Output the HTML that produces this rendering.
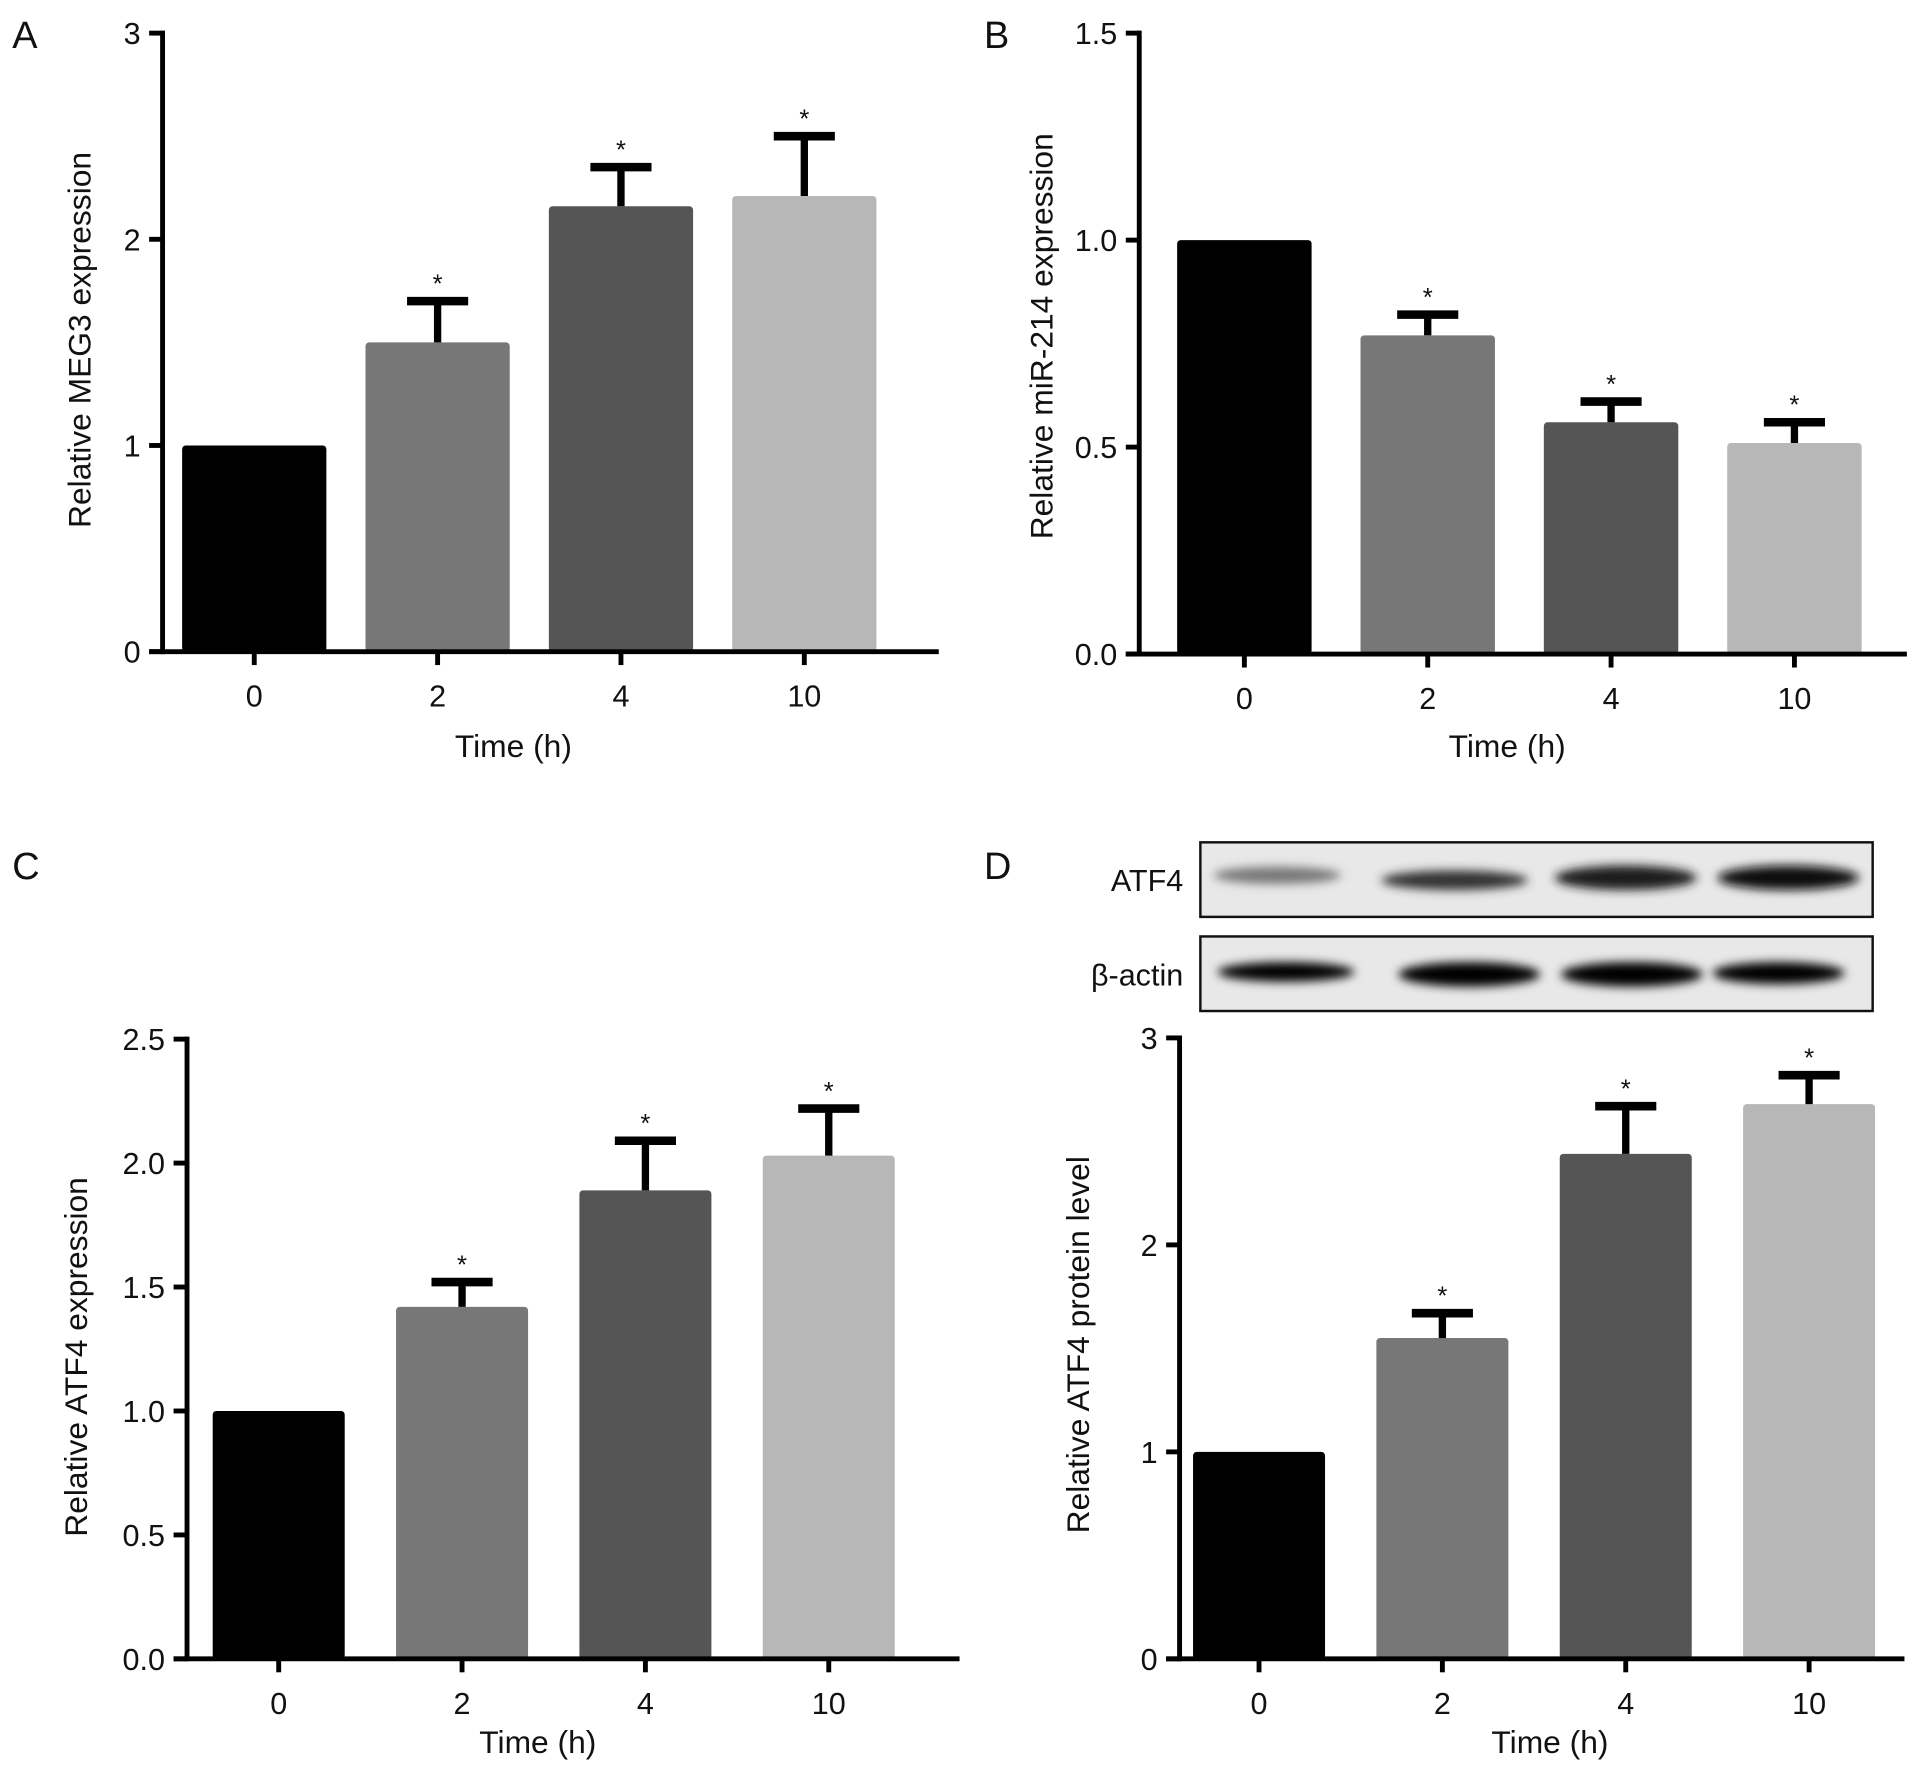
<!DOCTYPE html>
<html><head><meta charset="utf-8"><style>
html,body{margin:0;padding:0;background:#fff}
svg{display:block}
text{font-family:"Liberation Sans",Arial,sans-serif;fill:#111}
</style></head><body>
<svg id="fig" xmlns="http://www.w3.org/2000/svg" width="1913" height="1769" viewBox="0 0 1565 1447">
<defs>
<filter id="blur" x="-20%" y="-50%" width="140%" height="200%"><feGaussianBlur stdDeviation="4"/></filter>
</defs>
<g>
<rect x="982" y="689" width="550" height="61" fill="#e8e8e8" stroke="#111" stroke-width="2"/>
<rect x="982" y="766" width="550" height="61" fill="#e8e8e8" stroke="#111" stroke-width="2"/>
<text x="968" y="729" font-size="25" text-anchor="end">ATF4</text>
<text x="968" y="806" font-size="25" text-anchor="end">β-actin</text>
<g filter="url(#blur)">
<ellipse cx="1045" cy="716" rx="52" ry="7" fill="#777"/>
<ellipse cx="1190" cy="720" rx="60" ry="8" fill="#333"/>
<ellipse cx="1330" cy="718" rx="58" ry="10" fill="#1a1a1a"/>
<ellipse cx="1463" cy="718" rx="58" ry="10" fill="#111"/>
<ellipse cx="1052" cy="795" rx="56" ry="8" fill="#000"/>
<ellipse cx="1202" cy="797" rx="58" ry="10" fill="#000"/>
<ellipse cx="1335" cy="797" rx="58" ry="10" fill="#000"/>
<ellipse cx="1455" cy="796" rx="54" ry="9" fill="#000"/>
</g>
</g>
</svg>
<script>
const categories = ["0","2","4","10"];
const colors = ["#000000","#777777","#555555","#b7b7b7"];
const valuesA = [1.0, 1.50, 2.16, 2.21];
const errA = [0, 1.70, 2.35, 2.50];
const ticksA = [0,1,2,3];
const valuesB = [1.0, 0.77, 0.56, 0.51];
const errB = [0, 0.82, 0.61, 0.56];
const ticksB = ["0.0","0.5","1.0","1.5"];
const valuesC = [1.0, 1.42, 1.89, 2.03];
const errC = [0, 1.52, 2.09, 2.22];
const ticksC = ["0.0","0.5","1.0","1.5","2.0","2.5"];
const valuesD = [1.0, 1.55, 2.44, 2.68];
const errD = [0, 1.67, 2.67, 2.82];
const ticksD = [0,1,2,3];

const NS="http://www.w3.org/2000/svg";
const svg=document.getElementById('fig');
function mk(tag,attrs,parent){const e=document.createElementNS(NS,tag);for(const k in attrs)e.setAttribute(k,attrs[k]);(parent||svg).appendChild(e);return e;}

function panel(cfg){
  const g=mk('g',{});
  
  
  const ymax=parseFloat(cfg.ticks[cfg.ticks.length-1]);
  const ys=v=>cfg.y0-(v/ymax)*(cfg.y0-cfg.ytop);
  const xs=i=>cfg.c0+i*150;
  cfg.values.forEach((v,i)=>{
    const r=mk('rect',{x:xs(i)-cfg.bw/2,y:ys(v),width:cfg.bw,height:cfg.y0-ys(v),fill:colors[i],rx:3},g);
    
    
    const e=cfg.err[i];
    if(e>v){
      const s=mk('line',{x1:xs(i),x2:xs(i),y1:ys(v),y2:ys(e),stroke:'#000','stroke-width':6},g);
      
      
      const c=mk('line',{x1:xs(i)-25,x2:xs(i)+25,y1:ys(e),y2:ys(e),stroke:'#000','stroke-width':7},g);
      
      
      const st=mk('text',{x:xs(i),y:ys(e)-7,'font-size':21,'text-anchor':'middle'},g);
      st.textContent='*';
      
      
    }
    const t=mk('line',{x1:xs(i),x2:xs(i),y1:cfg.y0,y2:cfg.y0+11,stroke:'#000','stroke-width':4},g);
    
    
    const l=mk('text',{x:xs(i),y:cfg.y0+45,'font-size':25,'text-anchor':'middle'},g);
    l.textContent=categories[i];
    
    
  });
  const ya=mk('line',{x1:cfg.ax,x2:cfg.ax,y1:cfg.ytop-2,y2:cfg.y0+2,stroke:'#000','stroke-width':4},g);
  
  
  const xa=mk('line',{x1:cfg.ax-11,x2:cfg.xend,y1:cfg.y0,y2:cfg.y0,stroke:'#000','stroke-width':4},g);
  
  
  cfg.ticks.forEach(tv=>{
    const y=ys(parseFloat(tv));
    const t=mk('line',{x1:cfg.ax-11,x2:cfg.ax,y1:y,y2:y,stroke:'#000','stroke-width':4},g);
    
    
    const l=mk('text',{x:cfg.ax-18,y:y+9,'font-size':25,'text-anchor':'end'},g);
    l.textContent=tv;
    
    
  });
  const xt=mk('text',{x:cfg.xtx,y:cfg.xty,'font-size':26,'text-anchor':'middle'},g);
  xt.textContent='Time (h)';
  
  
  const yt=mk('text',{x:0,y:0,'font-size':26,'text-anchor':'middle',transform:`translate(${cfg.ytx},${cfg.yty}) rotate(-90)`},g);
  yt.textContent=cfg.ylabel;
  
  
  const pl=mk('text',{x:cfg.lx,y:cfg.ly,'font-size':31},g);
  pl.textContent=cfg.id;
  
  
}
panel({id:'A',values:valuesA,err:errA,ticks:ticksA,ax:133,ytop:27,y0:533,c0:208,bw:118,xend:768,xtx:420,xty:619,ytx:74,yty:278,ylabel:'Relative MEG3 expression',lx:10,ly:39});
panel({id:'B',values:valuesB,err:errB,ticks:ticksB,ax:932,ytop:27,y0:535,c0:1018,bw:110,xend:1560,xtx:1233,xty:619,ytx:861,yty:275,ylabel:'Relative miR-214 expression',lx:805,ly:39});
panel({id:'C',values:valuesC,err:errC,ticks:ticksC,ax:153,ytop:850,y0:1357,c0:228,bw:108,xend:785,xtx:440,xty:1434,ytx:71,yty:1110,ylabel:'Relative ATF4 expression',lx:10,ly:719});
panel({id:'D',values:valuesD,err:errD,ticks:ticksD,ax:965,ytop:849,y0:1357,c0:1030,bw:108,xend:1558,xtx:1268,xty:1434,ytx:891,yty:1100,ylabel:'Relative ATF4 protein level',lx:805,ly:719});
</script>
</body></html>
